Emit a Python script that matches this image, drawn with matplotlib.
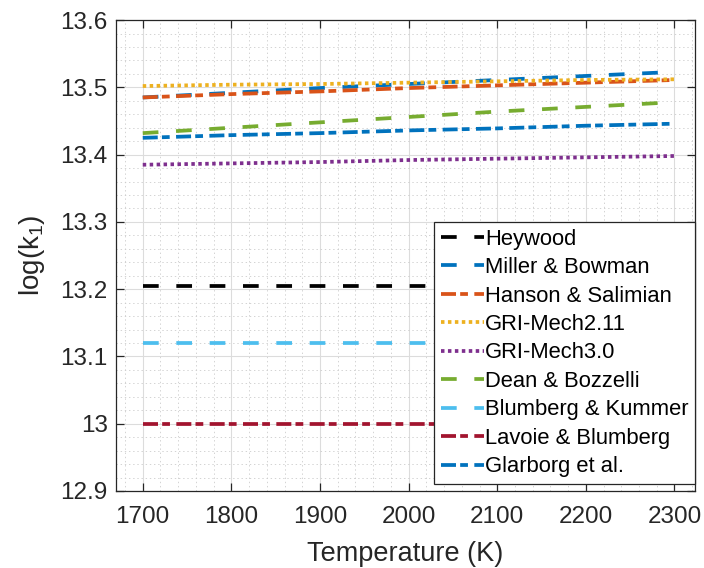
import matplotlib
matplotlib.use("Agg")
import matplotlib.pyplot as plt
from matplotlib.ticker import MultipleLocator

plt.rcParams["font.family"] = ["Liberation Sans", "DejaVu Sans"]
plt.rcParams["mathtext.fontset"] = "custom"
plt.rcParams["mathtext.rm"] = "Liberation Sans"
plt.rcParams["mathtext.it"] = "Liberation Sans:italic"
plt.rcParams["lines.scale_dashes"] = False

# Temperature grid (K)
temperature = [1700, 1800, 1900, 2000, 2100, 2200, 2300]

# log10 of the rate constant k1 for each source
heywood = [13.205, 13.205, 13.205, 13.205, 13.205, 13.205, 13.205]
miller_bowman = [13.485, 13.492, 13.499, 13.505, 13.511, 13.517, 13.523]
hanson_salimian = [13.485, 13.490, 13.494, 13.499, 13.503, 13.507, 13.511]
gri_211 = [13.502, 13.504, 13.505, 13.507, 13.509, 13.511, 13.512]
gri_30 = [13.385, 13.387, 13.389, 13.392, 13.394, 13.396, 13.398]
dean_bozzelli = [13.432, 13.440, 13.448, 13.456, 13.464, 13.471, 13.478]
blumberg_kummer = [13.12, 13.12, 13.12, 13.12, 13.12, 13.12, 13.12]
lavoie_blumberg = [13.0, 13.0, 13.0, 13.0, 13.0, 13.0, 13.0]
glarborg = [13.425, 13.429, 13.432, 13.436, 13.439, 13.443, 13.446]

labels = ["Heywood", "Miller & Bowman", "Hanson & Salimian", "GRI-Mech2.11",
          "GRI-Mech3.0", "Dean & Bozzelli", "Blumberg & Kummer",
          "Lavoie & Blumberg", "Glarborg et al."]

# dash patterns in points
DASH = (0, (11.3, 12.7))
DOT = (0, (2.5, 2.5))
DASHDOT = (0, (10.8, 3.0, 5.6, 4.6))

series = [
    (heywood, "#000000", DASH),
    (miller_bowman, "#0072BD", DASH),
    (hanson_salimian, "#D95319", DASHDOT),
    (gri_211, "#EDB120", DOT),
    (gri_30, "#7E2F8E", DOT),
    (dean_bozzelli, "#77AC30", DASH),
    (blumberg_kummer, "#4DBEEE", DASH),
    (lavoie_blumberg, "#A2142F", DASHDOT),
    (glarborg, "#0072BD", DASHDOT),
]

fig = plt.figure(figsize=(7.04, 5.68), dpi=100)
ax = fig.add_axes([0.165, 0.1356, 0.822, 0.829])

for (vals, color, ls), lab in zip(series, labels):
    ax.plot(temperature, vals, color=color, linestyle=ls, linewidth=2.7,
            label=lab, dash_capstyle="butt", solid_capstyle="butt")

ax.set_xlim(1670, 2323)
ax.set_ylim(12.9, 13.6)
ax.xaxis.set_major_locator(MultipleLocator(100))
ax.xaxis.set_minor_locator(MultipleLocator(20))
ax.yaxis.set_minor_locator(MultipleLocator(0.02))
ax.set_yticks([12.9, 13.0, 13.1, 13.2, 13.3, 13.4, 13.5, 13.6])
ax.set_yticklabels(["12.9", "13", "13.1", "13.2", "13.3", "13.4", "13.5", "13.6"])

ax.grid(which="major", color="#dcdcdc", linewidth=0.8, linestyle="-")
ax.grid(which="minor", color="#cccccc", linewidth=0.6, linestyle=(0, (1, 2)))
ax.set_axisbelow(True)

ax.tick_params(which="major", direction="in", length=6, width=0.9,
               top=True, right=True, labelsize=17.5, colors="#262626")
ax.tick_params(axis="x", which="major", pad=11)
ax.tick_params(axis="y", which="major", pad=6)
ax.tick_params(which="minor", length=0, top=True, right=True)
for sp in ax.spines.values():
    sp.set_color("#262626")
    sp.set_linewidth(0.9)

ax.set_xlabel("Temperature (K)", fontsize=19.5, color="#262626", labelpad=9)
ax.set_ylabel("log(k$_1$)", fontsize=20, color="#262626", labelpad=10)

leg = ax.legend(loc="lower right", bbox_to_anchor=(1.0, 0.015), borderaxespad=0,
                fontsize=15.8, frameon=True, fancybox=False, framealpha=1,
                edgecolor="#262626", handlelength=1.95, handletextpad=0.05,
                labelspacing=0.34, borderpad=0.3)
leg.get_frame().set_linewidth(0.9)

fig.savefig("out.png", dpi=100, facecolor="white")
